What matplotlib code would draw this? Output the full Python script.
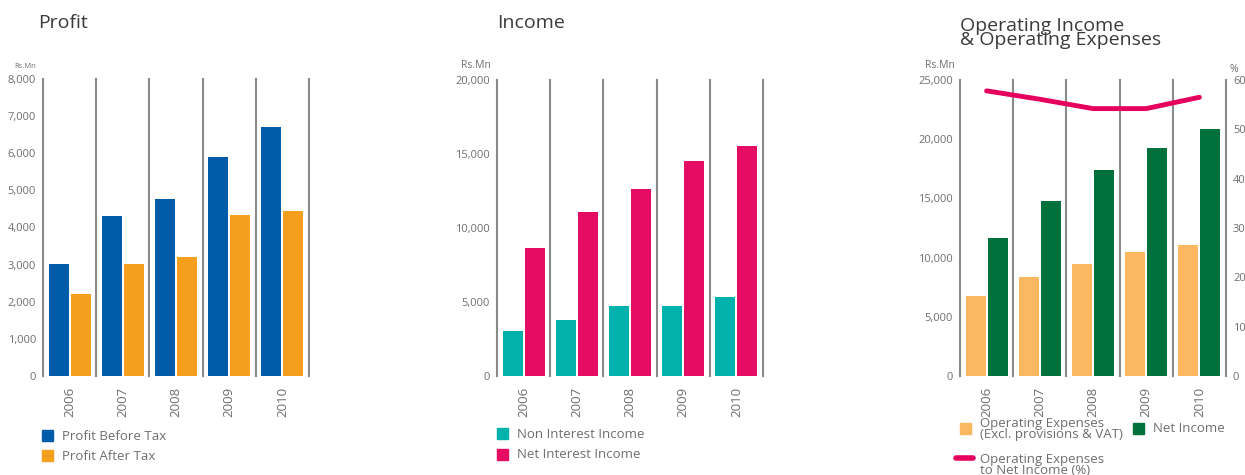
import numpy as np
import matplotlib.pyplot as plt
from matplotlib.patches import Rectangle
from matplotlib.lines import Line2D

plt.rcParams['font.family'] = ['Open Sans', 'DejaVu Sans']

years = ["2006", "2007", "2008", "2009", "2010"]

profit_before_tax = [3020, 4310, 4780, 5900, 6710]
profit_after_tax = [2205, 3015, 3200, 4340, 4450]

non_interest_income = [3030, 3770, 4720, 4720, 5330]
net_interest_income = [8660, 11100, 12660, 14550, 15570]

operating_expenses = [6750, 8360, 9490, 10480, 11070]
net_income = [11670, 14800, 17430, 19290, 20900]
opex_to_income_pct = [57.8, 56.1, 54.2, 54.2, 56.5]

TEXT = "#6d6e71"
TITLE = "#3a3a3a"
GRID = "#8a8a8a"
W, H = 1245, 475

fig = plt.figure(figsize=(W / 100, H / 100), dpi=100)


def px_axes(left, top, right, bottom):
    return fig.add_axes([left / W, 1 - bottom / H, (right - left) / W, (bottom - top) / H])


def style_axes(ax, ymax, step):
    x = np.arange(len(years))
    ax.set_xlim(-0.5, len(years) - 0.5)
    ax.set_ylim(0, ymax)
    ax.set_yticks(np.arange(0, ymax + 1, step))
    ax.set_yticklabels([f"{v:,}" for v in np.arange(0, ymax + 1, step)])
    ax.set_xticks(x)
    ax.set_xticklabels(years, rotation=90)
    for s in ax.spines.values():
        s.set_visible(False)
    ax.tick_params(length=0, colors=TEXT, labelsize=8, pad=5)
    ax.tick_params(axis="x", labelsize=9.5, pad=8)
    for b in np.arange(-0.5, len(years)):
        ax.axvline(b, color=GRID, lw=1.5, clip_on=False, zorder=0)


def two_bars(ax, a, b, ca, cb):
    x = np.arange(len(years))
    w = 0.377
    off = w / 2 + 0.019
    ax.bar(x - off, a, w, color=ca, zorder=2)
    ax.bar(x + off, b, w, color=cb, zorder=2)


def legend_box(x, y, color, label, size=9.5):
    fig.patches.append(Rectangle((x / W, 1 - (y + 11) / H), 11 / W, 11 / H,
                                 color=color, transform=fig.transFigure))
    fig.text((x + 20) / W, 1 - (y + 6) / H, label, color=TEXT, fontsize=size,
             va="center", ha="left", linespacing=0.8)


# Profit
ax1 = px_axes(43, 79, 309, 376)
style_axes(ax1, 8000, 1000)
two_bars(ax1, profit_before_tax, profit_after_tax, "#005ca9", "#f49f1e")
fig.text(38 / W, 1 - 23 / H, "Profit", fontsize=14, color=TITLE, va="center")
fig.text(14 / W, 1 - 66 / H, "Rs.Mn", fontsize=5.5, color=TEXT, va="center")
legend_box(42, 430, "#005ca9", "Profit Before Tax")
legend_box(42, 450, "#f49f1e", "Profit After Tax")

# Income
ax2 = px_axes(497, 80, 763, 376)
style_axes(ax2, 20000, 5000)
two_bars(ax2, non_interest_income, net_interest_income, "#00b1ac", "#e50d63")
fig.text(497 / W, 1 - 23 / H, "Income", fontsize=14, color=TITLE, va="center")
fig.text(461 / W, 1 - 66 / H, "Rs.Mn", fontsize=7.5, color=TEXT, va="center")
legend_box(497, 428, "#00b1ac", "Non Interest Income")
legend_box(497, 449, "#e50d63", "Net Interest Income")

# Operating Income & Operating Expenses
ax3 = px_axes(960, 80, 1226, 376)
style_axes(ax3, 25000, 5000)
two_bars(ax3, operating_expenses, net_income, "#fcb860", "#00703c")
ax3r = ax3.twinx()
ax3r.set_ylim(0, 60)
ax3r.set_yticks(np.arange(0, 61, 10))
for s in ax3r.spines.values():
    s.set_visible(False)
ax3r.tick_params(length=0, colors=TEXT, labelsize=8, pad=5)
ax3r.plot(np.arange(len(years)), opex_to_income_pct, color="#e5005f", lw=3.5,
          solid_capstyle="round", zorder=3)
fig.text(960 / W, 1 - 33 / H, "Operating Income\n& Operating Expenses", fontsize=14,
         color=TITLE, va="center", linespacing=0.78)
fig.text(925 / W, 1 - 66 / H, "Rs.Mn", fontsize=7.5, color=TEXT, va="center")
fig.text(1229 / W, 1 - 69 / H, "%", fontsize=7.5, color=TEXT, va="center")
legend_box(960, 423, "#fcb860", "Operating Expenses\n(Excl. provisions & VAT)", size=9.5)
legend_box(1133, 423, "#00703c", "Net Income", size=9.5)
fig.lines.append(Line2D([956 / W, 973 / W], [1 - 458 / H, 1 - 458 / H], color="#e5005f",
                        lw=4, solid_capstyle="round", transform=fig.transFigure))
fig.text(980 / W, 1 - 465 / H, "Operating Expenses\nto Net Income (%)", fontsize=9.5,
         color=TEXT, va="center", ha="left", linespacing=0.8)

fig.savefig("out.png", dpi=100, facecolor="white")
